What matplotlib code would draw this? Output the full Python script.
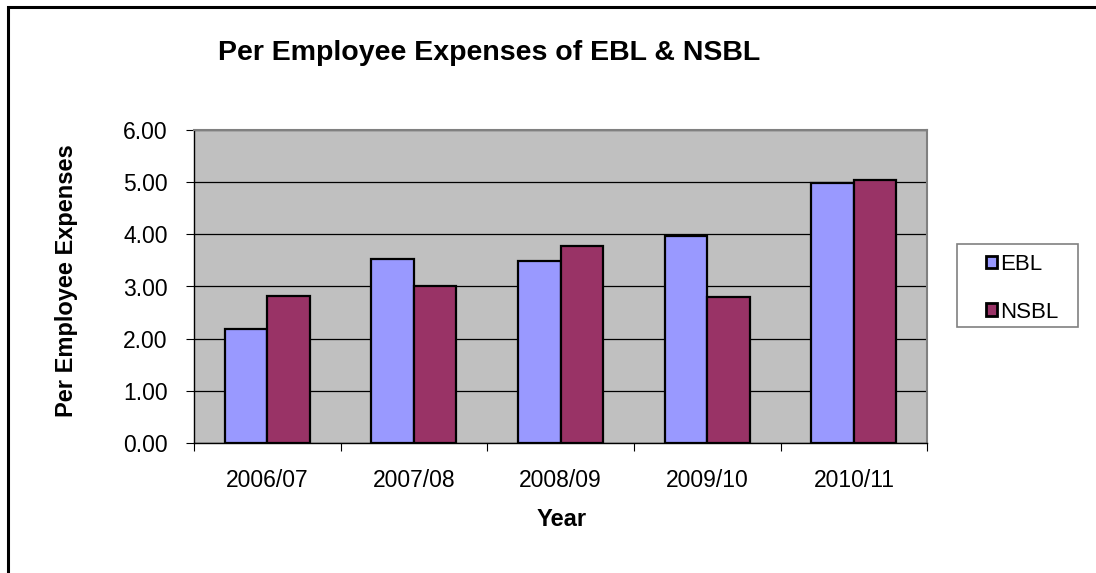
import numpy as np
import matplotlib.pyplot as plt
from matplotlib.patches import Rectangle

plt.rcParams['font.family'] = ['Liberation Sans', 'DejaVu Sans']

years = ['2006/07', '2007/08', '2008/09', '2009/10', '2010/11']
ebl = [2.18, 3.52, 3.49, 3.97, 4.99]
nsbl = [2.81, 3.01, 3.78, 2.79, 5.05]
yticks = [0, 1, 2, 3, 4, 5, 6]

W, H = 1096, 573
fig = plt.figure(figsize=(W/100, H/100), dpi=100)
ax = fig.add_axes([0.177, 0.227, 0.669, 0.546])

# chart-area border (only top/left visible in the original)
fig.patches.append(Rectangle((8/W, -0.1), 1.2, 1.1 - 7/H, transform=fig.transFigure,
                             fill=False, edgecolor='black', lw=2.2, zorder=0))

x = np.arange(len(years))
w = 0.29
ax.set_facecolor('#c0c0c0')
ax.bar(x - w/2, ebl, w, color='#9999ff', edgecolor='black', lw=1.6, label='EBL', zorder=3)
ax.bar(x + w/2, nsbl, w, color='#993366', edgecolor='black', lw=1.6, label='NSBL', zorder=3)

ax.set_xlim(-0.5, len(years) - 0.5)
ax.set_ylim(0, 6)
ax.set_yticks(yticks)
ax.set_yticklabels(['%.2f' % v for v in yticks], fontsize=16.5)
ax.set_xticks(x)
ax.set_xticklabels(years, fontsize=16.5)
ax.set_xticks(np.arange(len(years) + 1) - 0.5, minor=True)
ax.tick_params(axis='x', which='major', length=0, pad=19)
ax.tick_params(axis='x', which='minor', length=6, width=0.8, color='black', direction='out')
ax.tick_params(axis='y', length=6, width=0.8, direction='out', pad=13)
ax.grid(axis='y', color='black', lw=0.9, zorder=1)

for s in ['top', 'right']:
    ax.spines[s].set_color('#808080')
    ax.spines[s].set_linewidth(1.5)
for s in ['left', 'bottom']:
    ax.spines[s].set_color('black')
    ax.spines[s].set_linewidth(1.0)

fig.text(0.199, 0.907, 'Per Employee Expenses of EBL & NSBL', fontsize=20.5, fontweight='bold',
         ha='left', va='center')
fig.text(67/W, 0.5 + 0.01, 'Per Employee Expenses', fontsize=17, fontweight='bold',
         rotation=90, ha='center', va='center')
fig.text(562/W, 1 - 520/H, 'Year', fontsize=17, fontweight='bold', ha='center', va='center')

# legend: entries without frame, frame drawn separately
leg = fig.legend(loc='upper left', bbox_to_anchor=(986/W, 1 - 254/H), fontsize=16,
                 frameon=False, handlelength=0.5, handleheight=0.5, handletextpad=0.12,
                 labelspacing=1.2, borderpad=0, borderaxespad=0)
for h in leg.legend_handles:
    h.set_linewidth(2)
fig.patches.append(Rectangle((957/W, 1 - 327/H), 121/W, 83/H, transform=fig.transFigure,
                             fill=False, edgecolor='#808080', lw=1.2))

plt.savefig('out.png', dpi=100)
